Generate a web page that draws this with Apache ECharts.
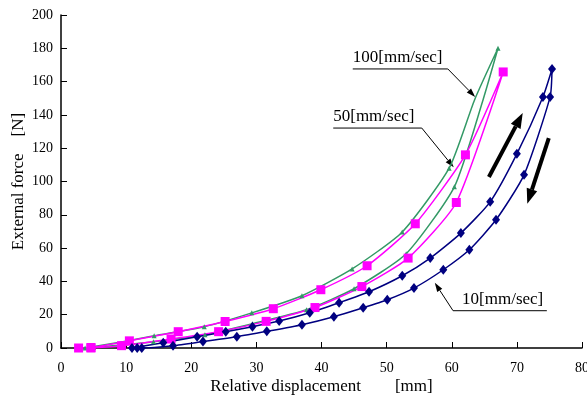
<!DOCTYPE html>
<html>
<head>
<meta charset="utf-8">
<script src="https://cdn.jsdelivr.net/npm/echarts@6/dist/echarts.min.js"></script>
<style>
  html, body { margin: 0; padding: 0; background: #fff; }
  #chart { width: 587px; height: 400px; }
</style>
</head>
<body>
<div id="chart"></div>
<script>
// hysteresis loops: loading branch then unloading branch, [displacement mm, force N]
// 'h' marks an in-between point with no marker
const speed10 = [
  [10.9, 0], [15.7, 3.2], [20.9, 6.8], [25.3, 9.8], [29.4, 12.8], [33.5, 16.2], [38.2, 21.2],
  [42.7, 27.2], [47.3, 33.8], [52.4, 43.4], [56.7, 54], [61.4, 69], [65.9, 87.8],
  [70.0, 116.6], [74.0, 150.8], [75.4, 167.6],
  [75.1, 150.8], [71.1, 104], [66.8, 77], [62.7, 59], [58.7, 47], [54.2, 36], [50.1, 29],
  [46.4, 24.2], [41.9, 18.8], [37.0, 14], [31.6, 10], [27.0, 6.8], [21.8, 3.9], [17.2, 1.4],
  [12.4, 0], [11.7, 0]
];
const speed50 = [
  [2.7, 0], [4.6, 0.3], [10.5, 4.3], [18.0, 9.8], [25.2, 15.9], [32.6, 23.6], [39.9, 35],
  [47.0, 49.4], [54.4, 74.6], [62.1, 116], [67.9, 165.8],
  [60.7, 87.4], [53.3, 54], [46.2, 36.9], [39.0, 24.3], [31.5, 16], [24.2, 9.8], [16.9, 5.4],
  [9.3, 1.4], [4.6, 0]
];
const speed100 = [
  [3.7, 0], [9.5, 3.8, 'h'], [14.3, 7.4], [22.0, 12.8], [29.3, 21.1], [37.0, 31.4], [44.7, 47.5],
  [52.4, 69.7], [59.6, 108], [63.5, 149, 'h'], [67.1, 180],
  [64.8, 149, 'h'], [60.4, 96.8], [53.0, 56.6], [45.0, 35.6], [37.7, 23], [29.4, 14.6],
  [22.1, 8], [14.2, 3.8], [5.0, 0.3]
];
const speedNames = ['100[mm/sec]', '50[mm/sec]', '10[mm/sec]'];

// callouts: underline from left to right end, arrow leaves from one end to the tip (data coords)
const callouts = [
  {text: speedNames[0], left: [44.8, 167.6], right: [59.4, 167.6], from: 'right', tip: [63.6, 150.8]},
  {text: speedNames[1], left: [41.8, 132.1], right: [55.4, 132.1], from: 'right', tip: [60.3, 108.5]},
  {text: speedNames[2], left: [60.2, 22.4], right: [74.6, 22.4], from: 'left', tip: [57.4, 39.2]}
];
// direction arrows (loading up, unloading down)
const bigArrows = [
  [[65.7, 102.7], [70.9, 141.1]],
  [[74.9, 126.1], [71.6, 86.6]]
];

const serif = "'Liberation Serif', 'DejaVu Serif', serif";
const chart = echarts.init(document.getElementById('chart'));

function toItems(arr) {
  return arr.map(p => p[2] === 'h' ? {value: [p[0], p[1]], symbol: 'none'} : [p[0], p[1]]);
}

function loop(name, color, data, symbol, size) {
  return {
    name, type: 'line', data: toItems(data),
    color, symbol, symbolSize: size, showAllSymbol: true,
    smooth: 0.2, animation: false,
    lineStyle: {width: 1.5, color},
    itemStyle: {color}
  };
}

chart.setOption({
  animation: false,
  grid: {left: 61, right: 5, top: 15, bottom: 52, containLabel: false, outerBoundsMode: 'none'},
  xAxis: {
    type: 'value', min: 0, max: 80, interval: 10,
    name: 'Relative displacement        [mm]', nameLocation: 'middle', nameGap: 30,
    nameMoveOverlap: false,
    nameTextStyle: {fontFamily: serif, fontSize: 17, color: '#000'},
    axisLine: {lineStyle: {color: '#000', width: 1.5}},
    axisTick: {inside: true, length: 6, lineStyle: {color: '#000'}},
    axisLabel: {fontFamily: serif, fontSize: 14, color: '#000', margin: 13},
    splitLine: {show: false}
  },
  yAxis: {
    type: 'value', min: 0, max: 200, interval: 20,
    name: 'External force    [N]', nameLocation: 'middle', nameGap: 34,
    nameMoveOverlap: false,
    nameTextStyle: {fontFamily: serif, fontSize: 17, color: '#000'},
    axisLine: {show: true, lineStyle: {color: '#000', width: 1.5}},
    axisTick: {show: true, inside: true, length: 6, lineStyle: {color: '#000'}},
    axisLabel: {fontFamily: serif, fontSize: 14, color: '#000', margin: 8},
    splitLine: {show: false}
  },
  series: [
    loop(speedNames[0], '#339966', speed100, 'triangle', 5),
    loop(speedNames[1], '#ff00ff', speed50, 'rect', 9),
    loop(speedNames[2], '#000080', speed10, 'diamond', [8, 10])
  ]
});

function head(tip, from, len, wid) {
  const dx = tip[0] - from[0], dy = tip[1] - from[1];
  const d = Math.hypot(dx, dy), ux = dx / d, uy = dy / d;
  const bx = tip[0] - ux * len, by = tip[1] - uy * len;
  return [tip, [bx - uy * wid / 2, by + ux * wid / 2], [bx + uy * wid / 2, by - ux * wid / 2]];
}

const px = p => chart.convertToPixel({gridIndex: 0}, p);
const graphic = [];
callouts.forEach(c => {
  const l = px(c.left), r = px(c.right), t = px(c.tip);
  const start = c.from === 'left' ? l : r;
  const h = head(t, start, 9, 6);
  const base = [(h[1][0] + h[2][0]) / 2, (h[1][1] + h[2][1]) / 2];
  graphic.push({type: 'line', shape: {x1: l[0], y1: l[1], x2: r[0], y2: r[1]}, style: {stroke: '#000', lineWidth: 1}});
  graphic.push({type: 'line', shape: {x1: start[0], y1: start[1], x2: base[0], y2: base[1]}, style: {stroke: '#000', lineWidth: 1}});
  graphic.push({type: 'polygon', shape: {points: h}, style: {fill: '#000'}});
  graphic.push({
    type: 'text', x: l[0] + (c.from === 'left' ? 9 : 0), y: l[1] - 3,
    style: {text: c.text, font: '17px ' + serif, fill: '#000', textVerticalAlign: 'bottom'}
  });
});
bigArrows.forEach(a => {
  const f = px(a[0]), t = px(a[1]);
  const h = head(t, f, 15, 11);
  const base = [(h[1][0] + h[2][0]) / 2, (h[1][1] + h[2][1]) / 2];
  graphic.push({type: 'line', shape: {x1: f[0], y1: f[1], x2: base[0], y2: base[1]}, style: {stroke: '#000', lineWidth: 4}});
  graphic.push({type: 'polygon', shape: {points: h}, style: {fill: '#000'}});
});
chart.setOption({graphic});
</script>
</body>
</html>
